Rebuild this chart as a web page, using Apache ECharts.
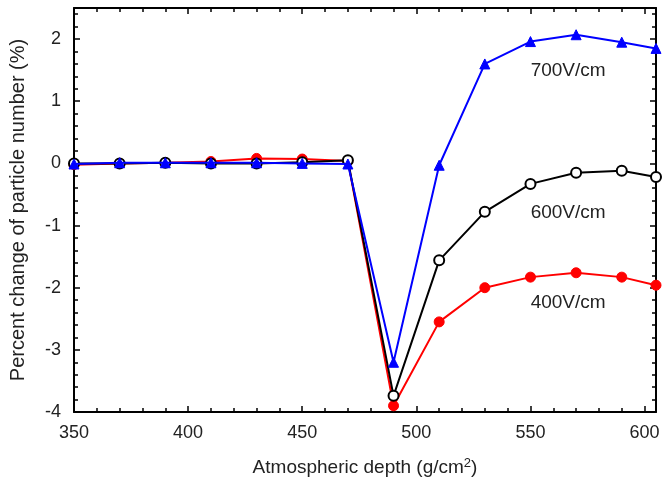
<!DOCTYPE html>
<html>
<head>
<meta charset="utf-8">
<script src="https://cdn.jsdelivr.net/npm/echarts@6/dist/echarts.min.js"></script>
<style>
  html, body { margin: 0; padding: 0; background: #fff; }
  #chart { width: 663px; height: 482px; }
</style>
</head>
<body>
<div id="chart"></div>
<script>
// Atmospheric depth (g/cm^2)
const depth = [350, 370, 390, 410, 430, 450, 470, 490, 510, 530, 550, 570, 590, 605];

// Percent change of particle number (%) for each field strength
const field400 = [-0.02, 0.0, 0.01, 0.03, 0.08, 0.07, 0.04, -3.9, -2.55, -2.0, -1.83, -1.76, -1.83, -1.96];
const field600 = [0.0, 0.0, 0.01, 0.0, 0.0, 0.02, 0.05, -3.74, -1.56, -0.78, -0.33, -0.15, -0.12, -0.22];
const field700 = [-0.01, 0.01, 0.01, 0.01, 0.01, 0.0, -0.01, -3.2, -0.03, 1.6, 1.96, 2.07, 1.95, 1.85];

const seriesNames = ['400V/cm', '600V/cm', '700V/cm'];
// Where each curve name sits: [depth, percent]
const nameAnchors = [[566.5, -2.24], [566.5, -0.8], [566.5, 1.49]];

const FONT = 'Liberation Sans, Arial, Helvetica, sans-serif';

function pairs(ys) { return depth.map((x, i) => [x, ys[i]]); }

function curveLabel(idx) {
  return {
    silent: true,
    symbol: 'circle',
    symbolSize: 0,
    label: {
      show: true,
      position: 'inside',
      formatter: seriesNames[idx],
      color: '#222',
      fontSize: 19,
      fontFamily: FONT
    },
    data: [{ coord: nameAnchors[idx] }]
  };
}

const chart = echarts.init(document.getElementById('chart'), null, { renderer: 'canvas' });

const frameLine = { onZero: false, lineStyle: { color: '#000', width: 2 } };
const majorTick = { show: true, inside: true, length: 6, lineStyle: { color: '#000', width: 1.5 } };
const minorTick = { show: true, splitNumber: 5, length: 4, lineStyle: { color: '#000', width: 1.5 } };

chart.setOption({
  backgroundColor: '#fff',
  animation: false,
  grid: { left: 71, right: 7, top: 8, bottom: 69 },
  xAxis: [
    {
      type: 'value', min: 350, max: 605, interval: 50,
      name: 'Atmospheric depth (g/cm{sup|2})',
      nameLocation: 'middle', nameGap: 45,
      nameTextStyle: {
        fontSize: 19, color: '#222', fontFamily: FONT,
        rich: { sup: { fontSize: 13, color: '#222', fontFamily: FONT, verticalAlign: 'top', padding: [0, 0, 8, 0] } }
      },
      axisLine: frameLine,
      axisTick: majorTick,
      minorTick: minorTick,
      axisLabel: { fontSize: 18, color: '#222', margin: 12, fontFamily: FONT },
      splitLine: { show: false }
    },
    {
      type: 'value', min: 350, max: 605, interval: 50, position: 'top',
      axisLine: frameLine,
      axisTick: majorTick,
      minorTick: minorTick,
      axisLabel: { show: false },
      splitLine: { show: false }
    }
  ],
  yAxis: [
    {
      type: 'value', min: -4, max: 2.5, interval: 1,
      name: 'Percent change of particle number (%)',
      nameLocation: 'middle', nameGap: 46,
      nameTextStyle: { fontSize: 20, color: '#222', fontFamily: FONT },
      axisLine: { show: true, onZero: false, lineStyle: { color: '#000', width: 2 } },
      axisTick: majorTick,
      minorTick: minorTick,
      axisLabel: { fontSize: 18, color: '#222', margin: 13, fontFamily: FONT,
        formatter: v => (Number.isInteger(v) ? String(v) : '') },
      splitLine: { show: false }
    },
    {
      type: 'value', min: -4, max: 2.5, interval: 1, position: 'right',
      axisLine: { show: true, onZero: false, lineStyle: { color: '#000', width: 2 } },
      axisTick: majorTick,
      minorTick: minorTick,
      axisLabel: { show: false },
      splitLine: { show: false }
    }
  ],
  series: [
    {
      name: seriesNames[0], type: 'line', data: pairs(field400),
      symbol: 'circle', symbolSize: 10,
      lineStyle: { color: '#ff0000', width: 2 },
      itemStyle: { color: '#ff0000', borderColor: '#ff0000', borderWidth: 1 },
      markPoint: curveLabel(0),
      z: 2
    },
    {
      name: seriesNames[1], type: 'line', data: pairs(field600),
      symbol: 'circle', symbolSize: 10,
      lineStyle: { color: '#000', width: 2 },
      itemStyle: { color: '#fff', borderColor: '#000', borderWidth: 2 },
      markPoint: curveLabel(1),
      z: 3
    },
    {
      name: seriesNames[2], type: 'line', data: pairs(field700),
      symbol: 'triangle', symbolSize: 10,
      lineStyle: { color: '#0000ff', width: 2 },
      itemStyle: { color: '#0000ff', borderColor: '#0000ff', borderWidth: 1 },
      markPoint: curveLabel(2),
      z: 4
    }
  ]
});
</script>
</body>
</html>
